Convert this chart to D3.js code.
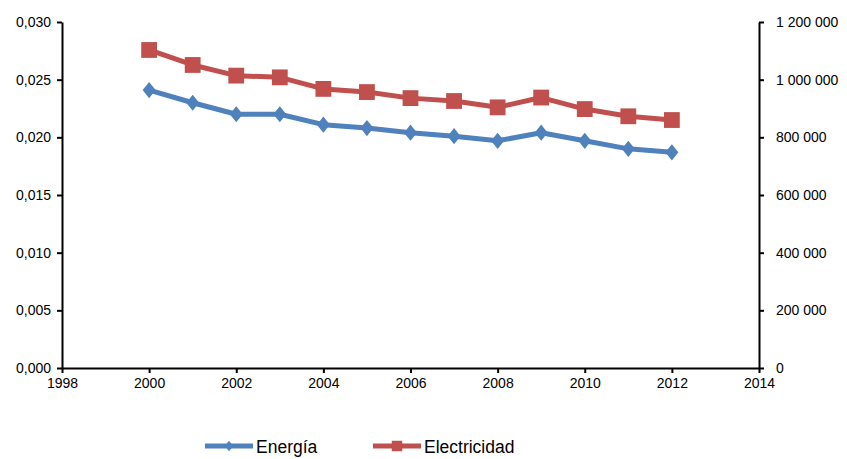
<!DOCTYPE html>
<html>
<head>
<meta charset="utf-8">
<script src="https://cdn.jsdelivr.net/npm/d3@7"></script>
<style>
  body { margin: 0; background: #fff; }
  svg { font-family: "Liberation Sans", Arial, sans-serif; }
  .axis path, .axis line { stroke: #000; stroke-width: 2; }
  .axis text { font-size: 14px; fill: #000; }
</style>
</head>
<body>
<svg id="chart"></svg>
<script>
var years = [2000, 2001, 2002, 2003, 2004, 2005, 2006, 2007, 2008, 2009, 2010, 2011, 2012];
var energia = [0.0241, 0.0230, 0.0220, 0.0220, 0.0211, 0.0208, 0.0204, 0.0201, 0.0197, 0.0204, 0.0197, 0.0190, 0.0187];
var electricidad = [1103000, 1051000, 1014000, 1008000, 968000, 957000, 936000, 926000, 904000, 938000, 898000, 873000, 860000];
var xTicks = [1998, 2000, 2002, 2004, 2006, 2008, 2010, 2012, 2014];
var leftTicks = [0, 0.005, 0.010, 0.015, 0.020, 0.025, 0.030];
var rightTicks = [0, 200000, 400000, 600000, 800000, 1000000, 1200000];

var W = 847, H = 459;
var margin = {top: 22, right: 88, bottom: 91, left: 62};
var width = W - margin.left - margin.right;
var height = H - margin.top - margin.bottom;

var svg = d3.select("#chart").attr("width", W).attr("height", H);
var root = svg.append("g")
    .attr("transform", "translate(" + margin.left + "," + margin.top + ")");

var x = d3.scaleLinear().domain([1998, 2014]).range([0, width]);
var yL = d3.scaleLinear().domain([0, 0.03]).range([height, 0]);
var yR = d3.scaleLinear().domain([0, 1200000]).range([height, 0]);

var commaFmt = function (d) { return d3.format(".3f")(d).replace(".", ","); };
var spaceFmt = function (d) { return d3.format(",")(d).replace(/,/g, " "); };

// axes
root.append("g").attr("class", "axis")
    .attr("transform", "translate(0," + height + ")")
    .call(d3.axisBottom(x).tickValues(xTicks).tickFormat(d3.format("d")).tickSize(5).tickSizeOuter(0).tickPadding(5));

root.append("g").attr("class", "axis")
    .call(d3.axisLeft(yL).tickValues(leftTicks).tickFormat(commaFmt).tickSize(5).tickSizeOuter(0).tickPadding(6));

root.append("g").attr("class", "axis")
    .attr("transform", "translate(" + width + ",0)")
    .call(d3.axisRight(yR).tickValues(rightTicks).tickFormat(spaceFmt).tickSize(5).tickSizeOuter(0).tickPadding(12));

var blue = "#4F81BD", red = "#C0504D";

var dataE = years.map(function (y, i) { return [y, energia[i]]; });
var dataL = years.map(function (y, i) { return [y, electricidad[i]]; });

var lineE = d3.line().x(function (d) { return x(d[0]); }).y(function (d) { return yL(d[1]); });
var lineL = d3.line().x(function (d) { return x(d[0]); }).y(function (d) { return yR(d[1]); });

root.append("path").datum(dataE)
    .attr("d", lineE).attr("fill", "none").attr("stroke", blue)
    .attr("stroke-width", 5).attr("stroke-linejoin", "round");
root.append("path").datum(dataL)
    .attr("d", lineL).attr("fill", "none").attr("stroke", red)
    .attr("stroke-width", 5).attr("stroke-linejoin", "round");

// Excel-style diamond: a bit taller than wide
var excelDiamond = {
    draw: function (context, size) {
        var h = Math.sqrt(size / 1.6);
        var w = h * 0.8;
        context.moveTo(0, -h);
        context.lineTo(w, 0);
        context.lineTo(0, h);
        context.lineTo(-w, 0);
        context.closePath();
    }
};

var diamond = d3.symbol().type(excelDiamond).size(105);
var square = d3.symbol().type(d3.symbolSquare).size(250);

root.selectAll(".mE").data(dataE).enter().append("path")
    .attr("class", "mE")
    .attr("d", diamond)
    .attr("transform", function (d) { return "translate(" + x(d[0]) + "," + yL(d[1]) + ")"; })
    .attr("fill", blue);

root.selectAll(".mL").data(dataL).enter().append("path")
    .attr("class", "mL")
    .attr("d", square)
    .attr("transform", function (d) { return "translate(" + x(d[0]) + "," + yR(d[1]) + ")"; })
    .attr("fill", red);

// legend
var legend = [
    {name: "Energía", color: blue, sym: d3.symbol().type(excelDiamond).size(45), x: 205},
    {name: "Electricidad", color: red, sym: d3.symbol().type(d3.symbolSquare).size(110), x: 373}
];
var lg = svg.selectAll(".lg").data(legend).enter().append("g")
    .attr("class", "lg")
    .attr("transform", function (d) { return "translate(" + d.x + ",446)"; });
lg.append("line").attr("x1", 0).attr("x2", 48)
    .attr("stroke", function (d) { return d.color; }).attr("stroke-width", 5);
lg.append("path").attr("d", function (d) { return d.sym(); })
    .attr("transform", "translate(24,0)")
    .attr("fill", function (d) { return d.color; });
lg.append("text").attr("x", 51).attr("y", 6.5)
    .attr("font-size", "17.5px")
    .text(function (d) { return d.name; });
</script>
</body>
</html>
